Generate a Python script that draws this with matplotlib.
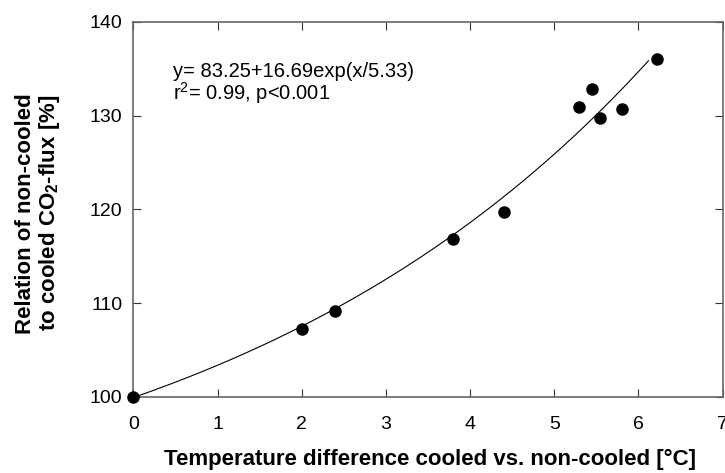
"""CO2 flux ratio vs. temperature difference with exponential fit."""
import numpy as np
import matplotlib
matplotlib.use("Agg")
import matplotlib.pyplot as plt

plt.rcParams["font.family"] = ["Liberation Sans", "DejaVu Sans"]
plt.rcParams["mathtext.fontset"] = "custom"
plt.rcParams["mathtext.rm"] = "Liberation Sans"
plt.rcParams["mathtext.it"] = "Liberation Sans:italic"
plt.rcParams["mathtext.bf"] = "Liberation Sans:bold"

# measured points
temp_diff = [0.0, 2.0, 2.4, 3.8, 4.4, 5.3, 5.45, 5.55, 5.8, 6.22]
flux_rel = [100.0, 107.2, 109.2, 116.9, 119.7, 130.9, 132.9, 129.8, 130.7, 136.0]

# fit y = a + b*exp(x/c), as printed on the chart
FIT_A, FIT_B, FIT_C = 83.25, 16.69, 5.33
FIT_XMAX = 6.12

x_ticks = [0, 1, 2, 3, 4, 5, 6, 7]
y_ticks = [100, 110, 120, 130, 140]

fig = plt.figure(figsize=(7.25, 4.73), dpi=100)
ax = fig.add_axes([0.1839, 0.1607, 0.8127, 0.7928])

xf = np.linspace(0, FIT_XMAX, 200)
ax.plot(xf, FIT_A + FIT_B * np.exp(xf / FIT_C), color="black", lw=0.8)
ax.plot(temp_diff, flux_rel, "o", color="black", ms=8, clip_on=False, zorder=5)

ax.set_xlim(0, 7)
ax.set_ylim(100, 140)
ax.set_xticks(x_ticks)
ax.set_yticks(y_ticks)
ax.tick_params(direction="in", length=6, width=0.8, color="#333333",
               labelsize=14, top=True, right=True)
ax.tick_params(axis="x", pad=13.5)
ax.tick_params(axis="y", pad=8)
for s in ax.spines.values():
    s.set_color("#666666")
    s.set_linewidth(1.2)

ax.text(0.068, 0.853, "y= 83.25+16.69exp(x/5.33)", transform=ax.transAxes,
        fontsize=14.5, va="baseline", ha="left")
ax.text(0.068, 0.792, "r$^2$= 0.99, p<0.001", transform=ax.transAxes,
        fontsize=14.5, va="baseline", ha="left")

ax.set_xlabel("Temperature difference cooled vs. non-cooled [°C]",
              fontsize=16, fontweight="bold")
ax.xaxis.set_label_coords(0.503, -0.138)
ax.set_ylabel("Relation of non-cooled\nto cooled CO$_\\mathbf{2}$-flux [%]",
              fontsize=16, fontweight="bold", linespacing=1.05)
ax.yaxis.set_label_coords(-0.121, 0.49)

fig.savefig("out.png", dpi=100)
